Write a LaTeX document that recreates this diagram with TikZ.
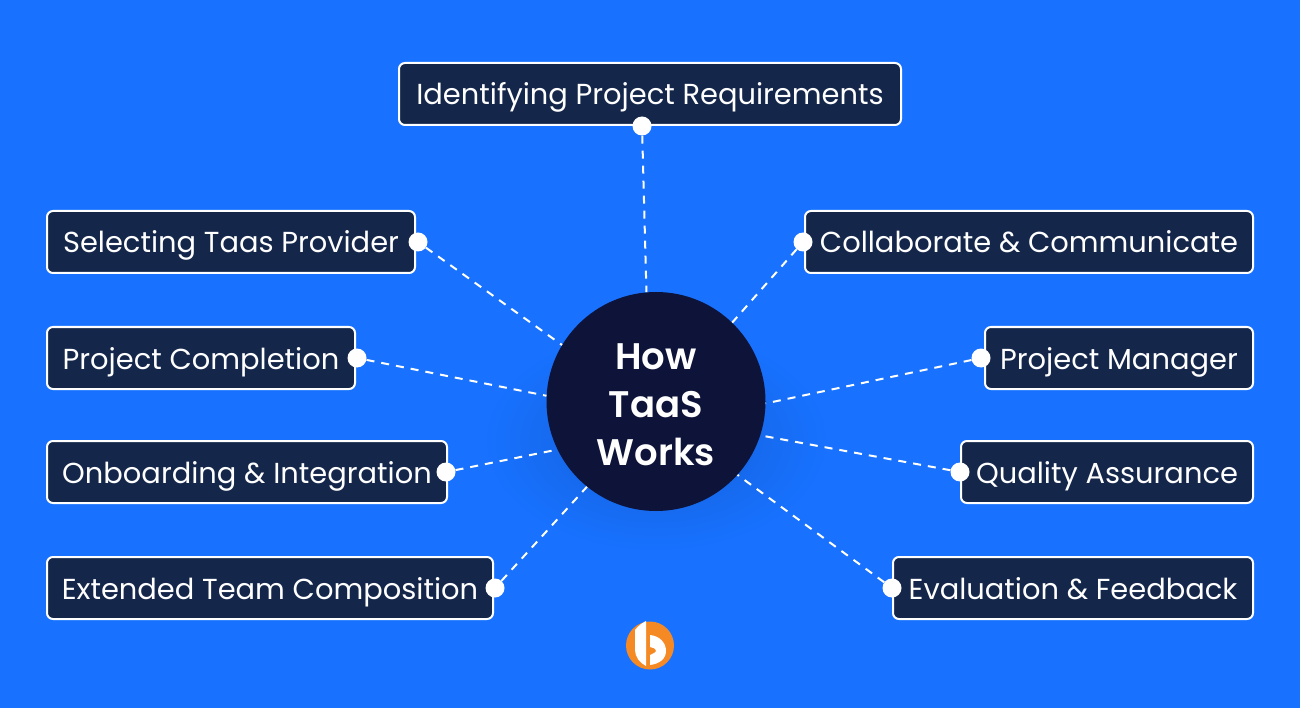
\documentclass[tikz,border=0pt]{standalone}
\usepackage{fontspec}
\setmainfont{Poppins}
\newfontfamily\hubfont{Poppins}[UprightFont=* SemiBold]
\usetikzlibrary{shadings,fadings}
\definecolor{bgblue}{HTML}{1872FF}
\definecolor{boxnavy}{HTML}{14264A}
\definecolor{hubnavy}{HTML}{0E1339}
\definecolor{logoorange}{HTML}{F58A25}
\tikzfading[name=softedge,inner color=transparent!70,outer color=transparent!100]
\tikzset{
  x=1pt,y=-1pt,
  labelbox/.style={draw=white,line width=2pt,fill=boxnavy,rounded corners=6pt,text=white,
    font=\fontsize{28.9}{32}\selectfont,text height=42pt,text depth=20pt,inner sep=0pt,anchor=west},
  pin/.style={circle,fill=white,minimum size=19pt,inner sep=0pt},
  link/.style={draw=white,line width=2pt,dash pattern=on 8pt off 7pt},
  hub/.style={circle,fill=hubnavy,minimum size=219pt,inner sep=0pt},
  hubtext/.style={text=white,align=center,inner sep=0pt,yshift=-3pt,
    font=\hubfont\fontsize{37}{48}\selectfont}
}
\begin{document}
\begin{tikzpicture}
\useasboundingbox (0,0) rectangle (1300,708);
\fill[bgblue] (0,0) rectangle (1300,708);
\fill[black,path fading=softedge,opacity=0.55] (656,440) ellipse (170 and 110);
\node[hub,label={[hubtext]center:How\\TaaS\\Works}] (centre) at (656,401.5) {};
\node[labelbox,minimum width=502pt] (req) at (398,94) {Identifying Project Requirements};
\node[labelbox,minimum width=368pt] (sel) at (46,242) {Selecting Taas Provider};
\node[labelbox,minimum width=308pt] (comp) at (46,358) {Project Completion};
\node[labelbox,minimum width=400pt] (onb) at (46,472) {Onboarding \& Integration};
\node[labelbox,minimum width=446pt] (ext) at (46,588) {Extended Team Composition};
\node[labelbox,minimum width=448pt] (col) at (804,242) {Collaborate \& Communicate};
\node[labelbox,minimum width=268pt] (pm) at (984,358) {Project Manager};
\node[labelbox,minimum width=292pt] (qa) at (960,472) {Quality Assurance};
\node[labelbox,minimum width=360pt] (ev) at (892,588) {Evaluation \& Feedback};
\node[pin] (p1) at (642,126) {};
\node[pin] (p2) at (418,242) {};
\node[pin] (p3) at (357,358) {};
\node[pin] (p4) at (446,472) {};
\node[pin] (p5) at (495,588) {};
\node[pin] (p6) at (803,242) {};
\node[pin] (p7) at (981,358) {};
\node[pin] (p8) at (960,472) {};
\node[pin] (p9) at (892,588) {};
\draw[link] (p1) -- (centre.95);
\draw[link] (p2) -- (centre.149);
\draw[link] (p3) -- (centre.177);
\draw[link] (p4) -- (centre.206);
\draw[link] (p5) -- (centre.231);
\draw[link] (p6) -- (centre.46);
\draw[link] (p7) -- (centre.359);
\draw[link] (p8) -- (centre.-18);
\draw[link] (p9) -- (centre.-42);
% logo
\fill[logoorange] (650,645.5) circle (24);
\fill[white] (635,630) .. controls (638,626) and (642,623) .. (646,621) -- (646,666) .. controls (640,663) and (635,657) .. (635,650) -- cycle;
\fill[white] (650,635) .. controls (660,636) and (666,643) .. (666,651) .. controls (666,659) and (659,664) .. (650,665) -- (650,655) .. controls (653,654) and (656,652) .. (656,651) .. controls (656,649) and (653,647) .. (650,647) -- cycle;
\end{tikzpicture}
\end{document}
